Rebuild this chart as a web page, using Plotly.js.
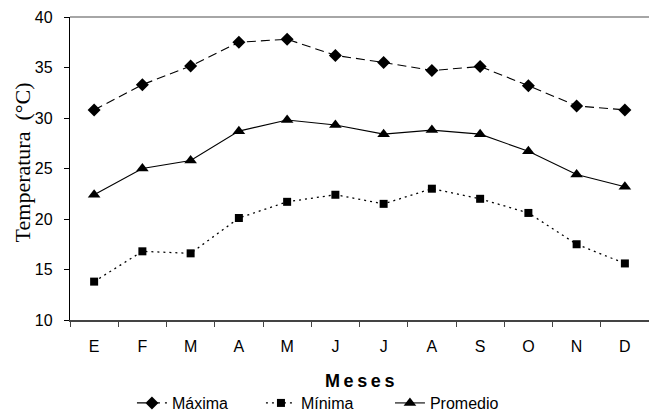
<!DOCTYPE html>
<html>
<head>
<meta charset="utf-8">
<script src="https://cdn.plot.ly/plotly-3.0.1.min.js"></script>
<style>html,body{margin:0;padding:0;background:#fff;}#chart{width:649px;height:413px;}</style>
</head>
<body>
<div id="chart"></div>
<script>
const months = ["E","F","M","A","M ","J","J ","A ","S","O","N","D"];
const monthLabels = ["E","F","M","A","M","J","J","A","S","O","N","D"];
const maxima = [30.8, 33.3, 35.15, 37.5, 37.8, 36.2, 35.5, 34.7, 35.1, 33.2, 31.2, 30.8];
const minima = [13.8, 16.8, 16.6, 20.1, 21.7, 22.4, 21.5, 23.0, 22.0, 20.6, 17.5, 15.6];
const promedio = [22.4, 25.0, 25.8, 28.7, 29.8, 29.3, 28.4, 28.8, 28.4, 26.7, 24.4, 23.2];
const seriesNames = ["Máxima", "Mínima", "Promedio"];

const font = {family: "Liberation Sans, Arial, sans-serif", size: 16, color: "#000"};

const traces = [
  {x: months, y: maxima, name: seriesNames[0], type: "scatter", mode: "lines+markers",
   line: {color: "#000", width: 1.1, dash: "9px,5px"},
   marker: {symbol: "diamond", size: 10, color: "#000"}},
  {x: months, y: minima, name: seriesNames[1], type: "scatter", mode: "lines+markers",
   line: {color: "#000", width: 1.3, dash: "2px,4px"},
   marker: {symbol: "square", size: 8, color: "#000"}},
  {x: months, y: promedio, name: seriesNames[2], type: "scatter", mode: "lines+markers",
   line: {color: "#000", width: 1.1},
   marker: {symbol: "triangle-up", size: 11, color: "#000"}}
];

const layout = {
  width: 649, height: 413,
  margin: {l: 70, r: 0, t: 17, b: 93, autoexpand: false},
  paper_bgcolor: "#fff", plot_bgcolor: "#fff",
  font: font,
  showlegend: true,
  legend: {orientation: "h", x: 0.107, xanchor: "left", y: -0.274, yanchor: "middle",
           entrywidth: 84, font: font, bgcolor: "rgba(0,0,0,0)"},
  xaxis: {type: "category", range: [-0.5, 11.5], tickson: "boundaries",
          tickvals: months, ticktext: monthLabels,
          ticks: "outside", ticklen: 5, tickcolor: "#444", tickwidth: 1,
          showline: true, linecolor: "#444", linewidth: 1.5,
          showgrid: false, zeroline: false, ticklabelstandoff: 11, tickfont: font},
  yaxis: {range: [10, 40], dtick: 5, ticks: "outside", ticklen: 5, tickcolor: "#000",
          showline: true, linecolor: "#000", linewidth: 1.2,
          showgrid: false, zeroline: false, ticklabelstandoff: 8, tickfont: font},
  shapes: [{type: "line", xref: "paper", yref: "paper", x0: 0, x1: 1, y0: 1, y1: 1,
            line: {color: "#a6a6a6", width: 2}}],
  annotations: [
    {text: "M\u2009e\u2009s\u2009e\u2009s", xref: "paper", yref: "paper", x: 0.5, y: -0.201,
     xanchor: "center", yanchor: "middle", showarrow: false,
     font: {family: "Liberation Sans, Arial, sans-serif", size: 18, color: "#000", weight: "bold"}},
    {text: "Temperatura\u00A0\u00A0(°C)", xref: "paper", yref: "paper", x: -0.083, y: 0.52,
     xanchor: "center", yanchor: "middle", textangle: -90, showarrow: false,
     font: {family: "Liberation Serif, Times New Roman, serif", size: 22, color: "#000"}}
  ]
};

Plotly.newPlot("chart", traces, layout, {displayModeBar: false, staticPlot: true});
</script>
</body>
</html>
